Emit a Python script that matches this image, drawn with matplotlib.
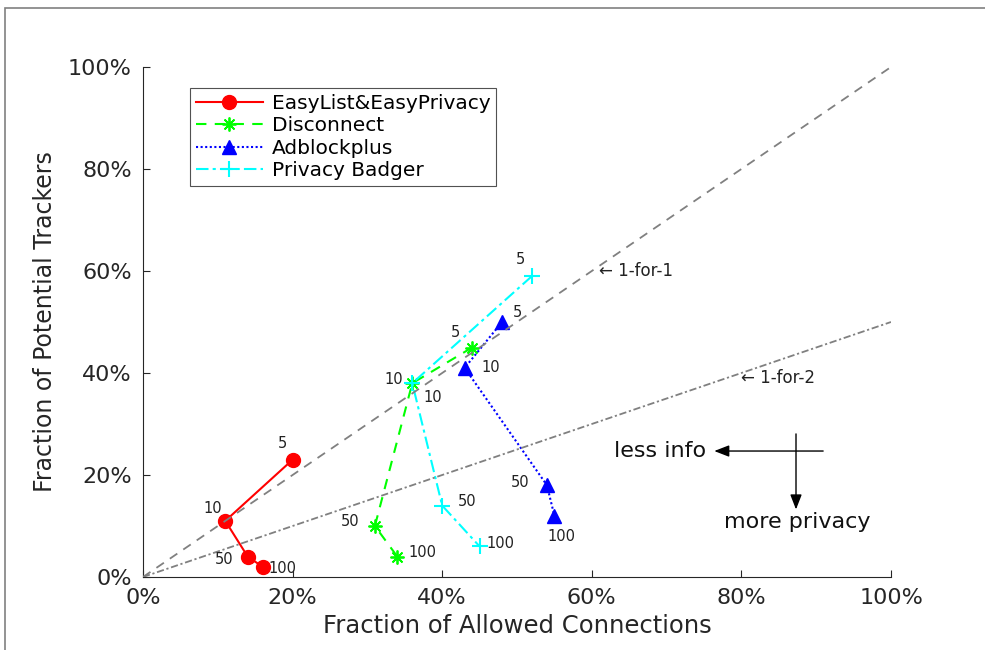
import matplotlib
matplotlib.use("Agg")
import matplotlib.pyplot as plt
from matplotlib.patches import Rectangle
from matplotlib.ticker import FuncFormatter

# ---------------- data ----------------
thresholds = ["5", "10", "50", "100"]

easylist_x = [20, 11, 14, 16]
easylist_y = [23, 11, 4, 2]

disconnect_x = [44, 36, 31, 34]
disconnect_y = [45, 38, 10, 4]

adblock_x = [48, 43, 54, 55]
adblock_y = [50, 41, 18, 12]

badger_x = [52, 36, 40, 45]
badger_y = [59, 38, 14, 6]

series_names = ["EasyList&EasyPrivacy", "Disconnect", "Adblockplus", "Privacy Badger"]
xticks = [0, 20, 40, 60, 80, 100]
yticks = [0, 20, 40, 60, 80, 100]

plt.rcParams["font.family"] = ["DejaVu Sans"]

fig = plt.figure(figsize=(9.85, 6.5), dpi=100)
ax = fig.add_axes([143 / 985, 1 - 577 / 650, 748 / 985, 510 / 650])

# outer frame
fig.patches.append(Rectangle((5 / 985, -0.1), 1.2, 1 - 8 / 650 + 0.1, transform=fig.transFigure,
                             fill=False, edgecolor="#808080", lw=1.2))

ms = 10
ax.plot(easylist_x, easylist_y, color="#ff0000", ls="-", lw=1.5, marker="o", ms=ms,
        label=series_names[0])
ax.plot(disconnect_x, disconnect_y, color="#00ff00", ls=(0, (5, 4)), lw=1.5, marker=(8, 2, 0),
        ms=ms, mew=1.3, label=series_names[1])
ax.plot(adblock_x, adblock_y, color="#0000ff", ls=(0, (1, 1.2)), lw=1.5, marker="^", ms=ms,
        label=series_names[2])
ax.plot(badger_x, badger_y, color="#00ffff", ls=(0, (6, 2, 1.5, 2)), lw=1.5, marker="+", ms=12,
        mew=1.5, label=series_names[3])

# reference lines
ax.plot([0, 100], [0, 100], color="#808080", ls=(0, (5, 4)), lw=1.3, zorder=3)
ax.plot([0, 100], [0, 50], color="#808080", ls=(0, (4, 1.5, 1.2, 1.5)), lw=1.3, zorder=3)

# point labels (offsets in points)
offsets = {
    "el": [(-7, 12), (-9, 9), (-17, -2), (14, -1)],
    "dc": [(-12, 11), (-13, 3), (-18, 3), (18, 3)],
    "ab": [(11, 7), (19, 0), (-19, 2), (5, -15)],
    "pb": [(-8, 12), (15, -10), (18, 3), (15, 2)],
}
for key, xs, ys in [("el", easylist_x, easylist_y), ("dc", disconnect_x, disconnect_y),
                    ("ab", adblock_x, adblock_y), ("pb", badger_x, badger_y)]:
    for lab, x, y, off in zip(thresholds, xs, ys, offsets[key]):
        ax.annotate(lab, (x, y), xytext=off, textcoords="offset points", fontsize=10.5,
                    ha="center", va="center", color="#222222")

ax.text(61, 60, "\u2190 1-for-1", fontsize=12, va="center", ha="left", color="#222222")
ax.text(80, 39, "\u2190 1-for-2", fontsize=12, va="center", ha="left", color="#222222")

ax.annotate("", xy=(76, 24.7), xytext=(91.3, 24.7),
            arrowprops=dict(arrowstyle="-|>,head_length=0.9,head_width=0.35", color="black", lw=1))
ax.annotate("", xy=(87.3, 12.7), xytext=(87.3, 28.6),
            arrowprops=dict(arrowstyle="-|>,head_length=0.9,head_width=0.35", color="black", lw=1))
ax.text(75.3, 24.7, "less info", fontsize=16, ha="right", va="center", color="#111111")
ax.text(87.5, 10.7, "more privacy", fontsize=16, ha="center", va="center", color="#111111")

ax.set_xlim(0, 100)
ax.set_ylim(0, 100)
ax.set_xticks(xticks)
ax.set_yticks(yticks)
pct = FuncFormatter(lambda v, p: f"{v:.0f}%")
ax.xaxis.set_major_formatter(pct)
ax.yaxis.set_major_formatter(pct)
ax.tick_params(direction="in", length=5, width=0.8, colors="#262626", labelsize=16)
ax.tick_params(axis="x", pad=8)
ax.tick_params(axis="y", pad=8)
for s in ["top", "right"]:
    ax.spines[s].set_visible(False)
for s in ["left", "bottom"]:
    ax.spines[s].set_color("#262626")
    ax.spines[s].set_linewidth(0.8)

ax.set_xlabel("Fraction of Allowed Connections", fontsize=17.5, color="#262626", labelpad=4)
ax.set_ylabel("Fraction of Potential Trackers", fontsize=17, color="#262626")
ax.yaxis.set_label_coords(-0.115, 0.5)

leg = ax.legend(loc="upper left", bbox_to_anchor=(0.063, 0.959), fontsize=14.5, frameon=True,
                fancybox=False, edgecolor="#262626", borderaxespad=0, handlelength=3.3,
                labelspacing=0.17, borderpad=0.3, handletextpad=0.45)
leg.get_frame().set_linewidth(0.8)

fig.savefig("out.png", dpi=100, facecolor="white")
